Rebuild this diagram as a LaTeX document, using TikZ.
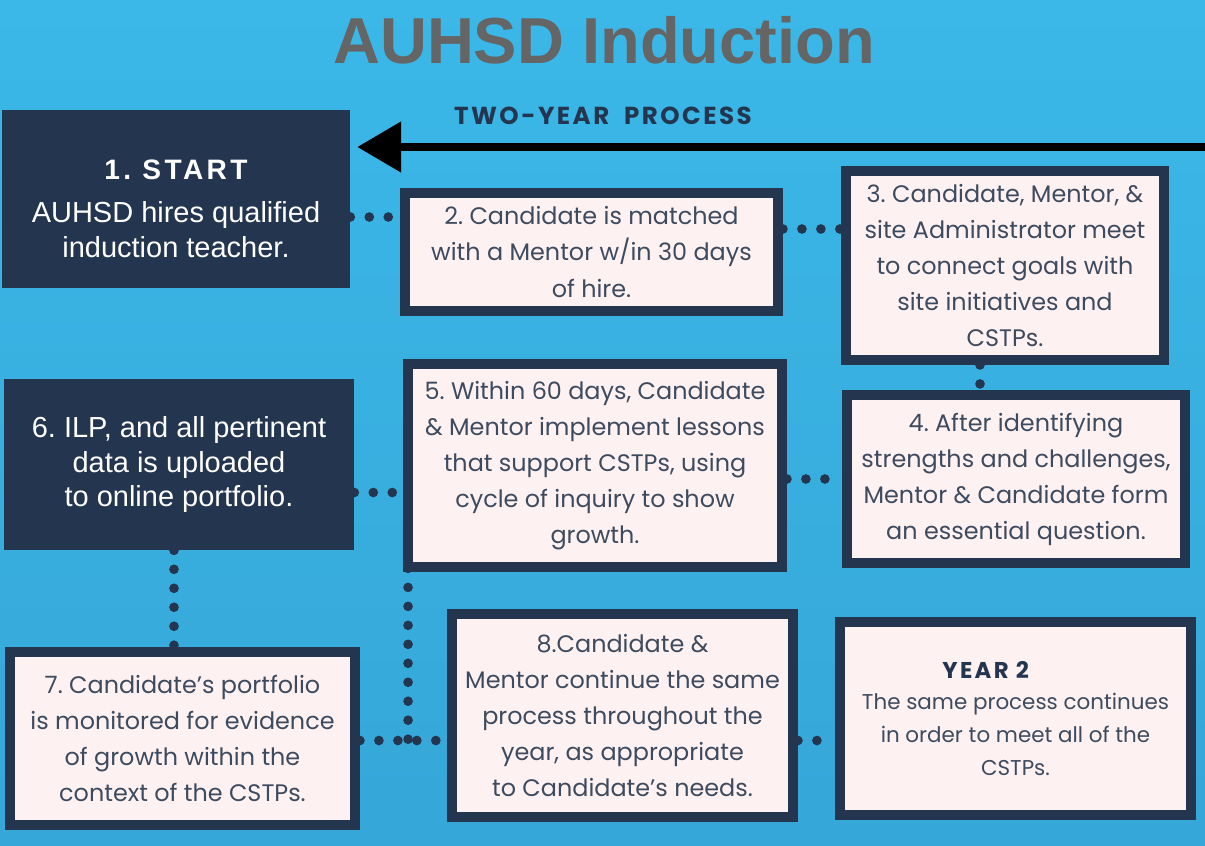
\documentclass[tikz,border=0pt]{standalone}
\usepackage{fontspec}
\setmainfont{Poppins}
\newfontfamily\darkfont{Liberation Sans}
\newfontfamily\spacedfont[LetterSpace=12]{Liberation Sans}
\newfontfamily\capsfont[LetterSpace=10]{Poppins}
\usetikzlibrary{arrows.meta}
\frenchspacing

\definecolor{skyblue}{HTML}{3BB8E8}
\definecolor{skydeep}{HTML}{35A7D8}
\definecolor{navy}{HTML}{23354F}
\definecolor{blush}{HTML}{FEF1F2}
\definecolor{inkgray}{HTML}{3E4B5E}
\definecolor{titlegray}{HTML}{656565}

\tikzset{
  darkbox/.style={fill=navy, text=white, align=center, inner sep=0pt,
    font=\darkfont\fontsize{16.5}{19.8}\selectfont},
  pinkbox/.style={draw=navy, fill=blush, line width=5.67pt, text=inkgray,
    align=center, inner sep=0pt, font=\fontsize{13.6}{20.5}\selectfont},
  dotline/.style={navy, line width=5.5pt, line cap=round, dash pattern=on 0pt off 10.8pt},
}

\begin{document}
\begin{tikzpicture}[x=0.02cm, y=-0.02cm]
  \useasboundingbox (0,0) rectangle (1205,846);
  \fill[top color=skyblue, bottom color=skydeep] (0,0) rectangle (1205,846);

  % heading
  \node[anchor=base, text=titlegray, font=\darkfont\bfseries\fontsize{37}{40}\selectfont]
    (title) at (604,63) {AUHSD Induction};
  \node[anchor=base, text=navy, font=\capsfont\bfseries\fontsize{14}{16}\selectfont]
    (subtitle) at (603,124) {TWO-YEAR\hspace{4pt} PROCESS};

  % boxes
  \node[darkbox, minimum width=6.96cm, minimum height=3.56cm] (b1) at (176,199)
    {{\spacedfont\bfseries\fontsize{16}{19.8}\selectfont\rule{0pt}{22pt}1. START}\\[5pt]
     AUHSD hires qualified\\ induction teacher.};
  \node[pinkbox, minimum width=7.46cm, minimum height=2.36cm] (b2) at (591.5,252)
    {2. Candidate is matched\\ with a Mentor w/in 30 days\\ of hire.};
  \node[pinkbox, minimum width=6.36cm, minimum height=3.78cm] (b3) at (1005,265.5)
    {3. Candidate, Mentor, \&\\ site Administrator meet\\ to connect goals with\\
     site initiatives and\\ CSTPs.};
  \node[pinkbox, minimum width=6.76cm, minimum height=3.36cm] (b4) at (1016,479)
    {4. After identifying\\ strengths and challenges,\\ Mentor \& Candidate form\\
     an essential question.};
  \node[pinkbox, minimum width=7.48cm, minimum height=4.06cm] (b5) at (595,465.5)
    {5. Within 60 days, Candidate\\ \& Mentor implement lessons\\
     that support CSTPs, using\\ cycle of inquiry to show\\ growth.};
  \node[darkbox, minimum width=7.00cm, minimum height=3.42cm] (b6) at (179,464.5)
    {6. ILP, and all pertinent\\ data is uploaded\\ to online portfolio.};
  \node[pinkbox, minimum width=6.90cm, minimum height=3.46cm] (b7) at (182.5,738.5)
    {7. Candidate's portfolio\\ is monitored for evidence\\ of growth within the\\
     context of the CSTPs.};
  \node[pinkbox, minimum width=6.82cm, minimum height=4.06cm] (b8) at (622.5,715.5)
    {8.Candidate \&\\ Mentor continue the same\\ process throughout the\\
     year, as appropriate\\ to Candidate's needs.};
  \node[pinkbox, minimum width=7.02cm, minimum height=3.86cm,
    font=\fontsize{12.2}{18.6}\selectfont] (b9) at (1015.5,718.5)
    {{\capsfont\bfseries\fontsize{13}{18}\selectfont\color{navy}YEAR 2}\hspace*{34pt}\\[-1pt]
     The same process continues\\ in order to meet all of the\\ CSTPs.};

  % big arrow back to the start
  \coordinate (tip) at ([shift={(7,-52)}]b1.east);
  \coordinate (edge) at (1205,147);
  \draw[line width=4.5pt, -{Triangle[length=25pt, width=28pt]}] (edge) -- (tip);

  % dotted connectors
  \coordinate (c12) at ([shift={(0,-35)}]b2.west);
  \coordinate (c23) at ([shift={(0,-23)}]b2.east);
  \coordinate (c34) at ([shift={(-25,0)}]b3.south);
  \coordinate (c56) at ([shift={(5,27)}]b5.west);
  \coordinate (c67) at ([shift={(-5,0)}]b6.south);
  \coordinate (c78) at ([shift={(0,2)}]b7.east);
  \draw[dotline] (c12 -| b1.east) -- (c12);
  \draw[dotline] (c23) -- (c23 -| b3.west);
  \draw[dotline] (c34) -- (c34 |- b4.north);
  \draw[dotline] (b5.east |- b4.west) -- (b4.west);
  \draw[dotline] (b6.east |- c56) -- (c56);
  \draw[dotline] (c67) -- (c67 |- b7.north);
  \draw[dotline] (c56) -- (c56 |- c78);
  \draw[dotline] (c78) -- (c78 -| b8.west);
  \draw[dotline] (c78 -| b8.east) -- (c78 -| b9.west);
\end{tikzpicture}
\end{document}
